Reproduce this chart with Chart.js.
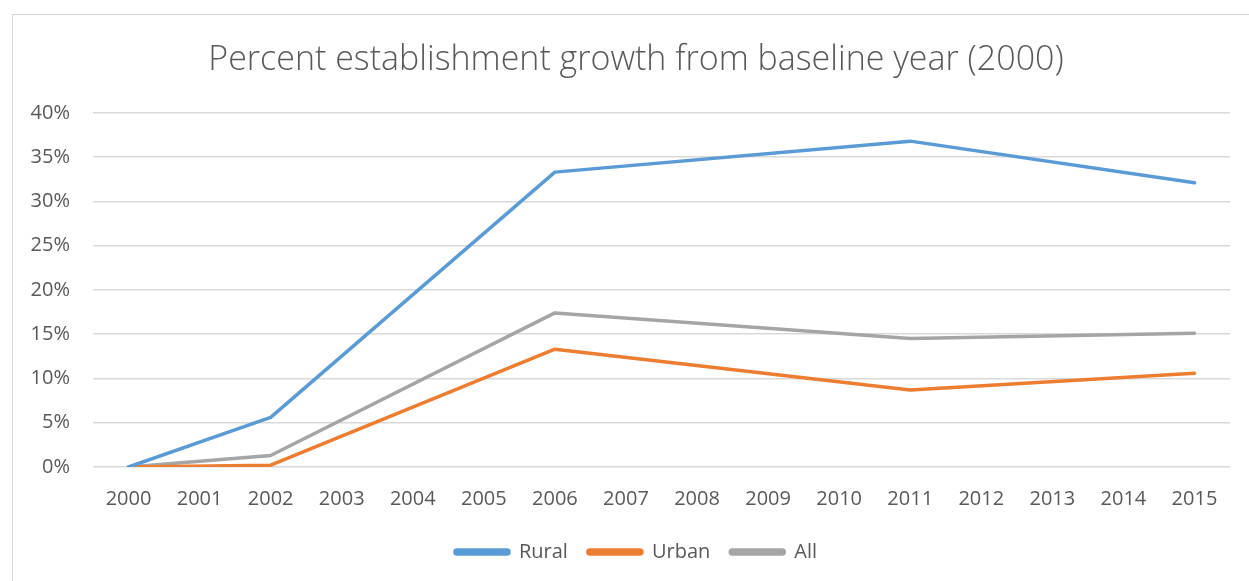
<!DOCTYPE html>
<html>
<head>
<meta charset="utf-8">
<script src="https://cdn.jsdelivr.net/npm/chart.js@4"></script>
<style>
  html, body { margin: 0; padding: 0; background: #fff; }
  #frame { position: absolute; left: 12px; top: 14px; width: 1300px; height: 600px;
           border-left: 1px solid #d9d9d9; border-top: 1px solid #d9d9d9; }
  #c { position: absolute; left: 0; top: 0; }
</style>
</head>
<body>
<div id="frame"></div>
<canvas id="c" width="1249" height="581"></canvas>
<script>
// Years on the horizontal axis
const years = ['2000','2001','2002','2003','2004','2005','2006','2007',
               '2008','2009','2010','2011','2012','2013','2014','2015'];
// Percent growth over 2000; only survey years carry values
const rural = [0, null, 5.6, null, null, null, 33.3, null, null, null, null, 36.8, null, null, null, 32.1];
const urban = [0, null, 0.2, null, null, null, 13.3, null, null, null, null, 8.7, null, null, null, 10.6];
const all   = [0, null, 1.3, null, null, null, 17.4, null, null, null, null, 14.5, null, null, null, 15.1];
const seriesNames = ['Rural', 'Urban', 'All'];
const seriesColors = ['#5b9bd5', '#ed7d31', '#a5a5a5'];
const chartTitle = 'Percent establishment growth from baseline year (2000)';

const textColor = '#595959';
const gridColor = '#d9d9d9';
const tickFont = { family: 'Open Sans', size: 20 };

const mk = (i, data) => ({
  label: seriesNames[i],
  data: data,
  borderColor: seriesColors[i],
  backgroundColor: seriesColors[i],
  borderWidth: 3.5,
  pointRadius: 0,
  pointHoverRadius: 0,
  spanGaps: true,
  tension: 0,
  borderCapStyle: 'round',
  borderJoinStyle: 'round'
});

new Chart(document.getElementById('c'), {
  type: 'line',
  data: {
    labels: years,
    datasets: [mk(0, rural), mk(1, urban), mk(2, all)]
  },
  options: {
    responsive: false,
    animation: false,
    layout: { padding: { left: 28, right: 5, top: 40, bottom: 9 } },
    plugins: {
      title: {
        display: true,
        text: chartTitle,
        color: textColor,
        font: { family: 'Open Sans', size: 34, weight: '300' },
        padding: { top: 0, bottom: 32 }
      },
      legend: {
        position: 'bottom',
        labels: {
          color: textColor,
          font: tickFont,
          boxWidth: 54,
          boxHeight: 4,
          useBorderRadius: true,
          borderRadius: 2,
          padding: 20
        }
      },
      tooltip: { enabled: false }
    },
    scales: {
      x: {
        offset: true,
        grid: { display: false, drawTicks: false },
        border: { display: false },
        ticks: { color: textColor, font: tickFont, padding: 20, maxRotation: 0, autoSkip: false },
        afterFit: s => { s.height = 55; }
      },
      y: {
        min: 0, max: 40,
        grid: { color: gridColor, lineWidth: 1.5, drawTicks: false },
        border: { display: false },
        ticks: {
          stepSize: 5,
          color: textColor,
          font: tickFont,
          padding: 23,
          callback: v => v + '%'
        },
        afterFit: s => { s.width = 65; }
      },
      // empty right-hand margin strip beside the plot
      yRight: {
        position: 'right',
        min: 0, max: 40,
        grid: { display: false, drawTicks: false },
        border: { display: false },
        ticks: { display: false },
        afterFit: s => { s.width = 14; }
      }
    }
  }
});
</script>
</body>
</html>
